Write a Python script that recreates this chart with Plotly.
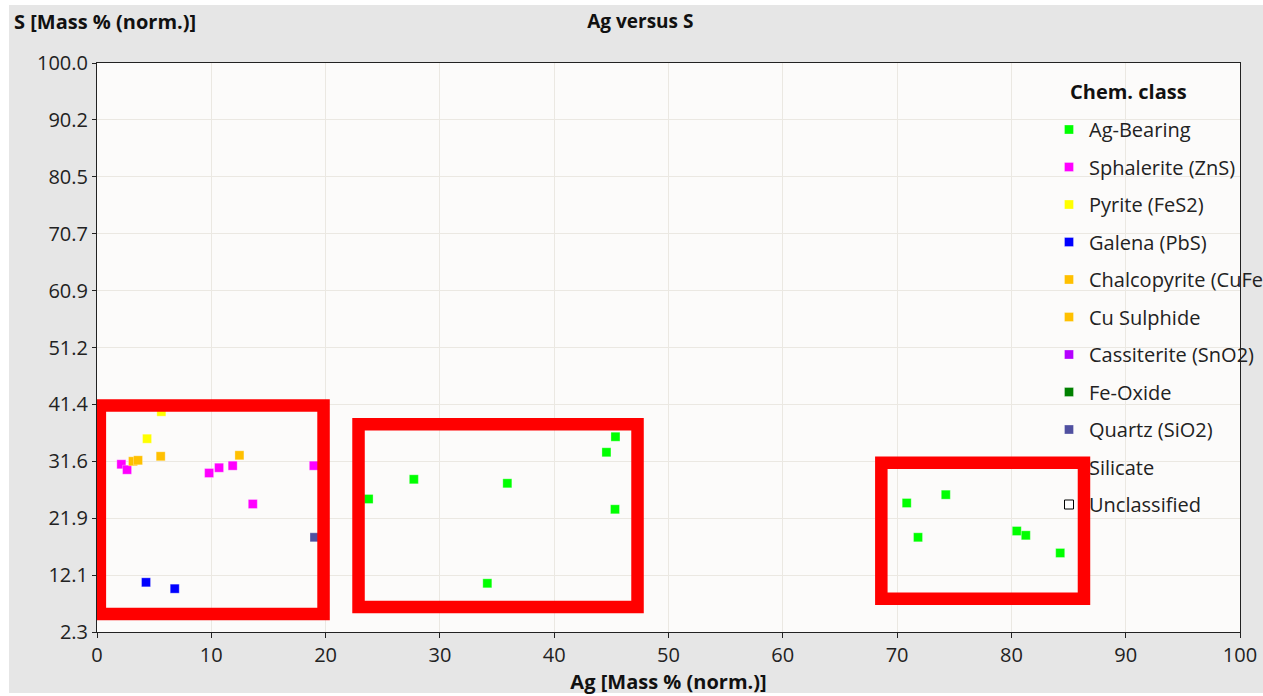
import numpy as np
import plotly.graph_objects as go

# Ag vs S measurements (mass %, normalised), grouped by chemical class
CLASSES = [
    "Ag-Bearing", "Sphalerite (ZnS)", "Pyrite (FeS2)", "Galena (PbS)",
    "Chalcopyrite (CuFeS2)", "Cu Sulphide", "Cassiterite (SnO2)",
    "Fe-Oxide", "Quartz (SiO2)", "Silicate", "Unclassified",
]
COLORS = [
    "#00ff00", "#ff00ff", "#ffff00", "#0000ff", "#ffc000", "#ffc000",
    "#b400ff", "#008000", "#5050a0", "rgba(0,0,0,0)", "#ffffff",
]

ag_bearing_ag = [45.36, 44.57, 27.72, 35.90, 23.76, 45.32, 34.15,
                 70.84, 74.26, 71.83, 80.47, 81.26, 84.27]
ag_bearing_s = [35.83, 33.16, 28.52, 27.83, 25.14, 23.37, 10.66,
                24.45, 25.88, 18.56, 19.64, 18.90, 15.87]

sphalerite_ag = [2.13, 2.63, 9.81, 10.68, 11.87, 13.63, 18.97]
sphalerite_s = [31.10, 30.17, 29.60, 30.51, 30.86, 24.28, 30.86]

pyrite_ag = [4.38, 5.63]
pyrite_s = [35.49, 40.13]

galena_ag = [4.29, 6.80]
galena_s = [10.83, 9.74]

chalcopyrite_ag = [3.15, 3.59, 12.46]
chalcopyrite_s = [31.61, 31.78, 32.64]

cu_sulphide_ag = [5.57]
cu_sulphide_s = [32.47]

quartz_ag = [19.03]
quartz_s = [18.56]

# classes without any particle in this selection
NO_DATA = ([None], [None])

SERIES = {
    "Ag-Bearing": (ag_bearing_ag, ag_bearing_s),
    "Sphalerite (ZnS)": (sphalerite_ag, sphalerite_s),
    "Pyrite (FeS2)": (pyrite_ag, pyrite_s),
    "Galena (PbS)": (galena_ag, galena_s),
    "Chalcopyrite (CuFeS2)": (chalcopyrite_ag, chalcopyrite_s),
    "Cu Sulphide": (cu_sulphide_ag, cu_sulphide_s),
    "Cassiterite (SnO2)": NO_DATA,
    "Fe-Oxide": NO_DATA,
    "Quartz (SiO2)": (quartz_ag, quartz_s),
    "Silicate": NO_DATA,
    "Unclassified": NO_DATA,
}

# Axis setup
X_TICKS = [0, 10, 20, 30, 40, 50, 60, 70, 80, 90, 100]
Y_MIN, Y_MAX = 2.3, 100.0
Y_TICK_LABELS = ["2.3", "12.1", "21.9", "31.6", "41.4", "51.2",
                 "60.9", "70.7", "80.5", "90.2", "100.0"]
y_tickvals = np.linspace(Y_MIN, Y_MAX, len(Y_TICK_LABELS))

# Highlighted regions (Ag range, S range)
REGIONS = [
    ((0.25, 19.82), (5.39, 41.19)),
    ((22.88, 47.29), (6.59, 37.96)),
    ((68.62, 86.35), (8.00, 31.37)),
]

FONT = "Open Sans"
ML, MR, MT, MB = 97, 23, 63, 64
PW, PH = 1263 - ML - MR, 696 - MT - MB


def px_to_paper(px, py):
    return (px - ML) / PW, (696 - MB - py) / PH


fig = go.Figure()
for i, (name, color) in enumerate(zip(CLASSES, COLORS)):
    xs, ys = SERIES[name]
    if name == "Unclassified":
        line = dict(width=1, color="black")
    elif name == "Silicate":
        line = dict(width=0)
    else:
        line = dict(width=0.6, color="rgba(255,255,255,0.5)")
    fig.add_trace(go.Scatter(
        x=xs, y=ys, mode="markers", name=name, legendgroup=f"g{i}",
        marker=dict(symbol="square", size=9, color=color, line=line),
    ))

for (x0, x1), (y0, y1) in REGIONS:
    fig.add_shape(type="rect", xref="x", yref="y", x0=x0, x1=x1, y0=y0, y1=y1,
                  line=dict(color="#ff0000", width=12.5), layer="above")

# thin white edge around the figure
for sx0, sx1, sy0, sy1 in [(0, 9, 0, 696), (0, 1263, 0, 5), (0, 1263, 693, 696)]:
    ax0, ay1 = px_to_paper(sx0, sy0)
    ax1, ay0 = px_to_paper(sx1, sy1)
    fig.add_shape(type="rect", xref="paper", yref="paper",
                  x0=ax0, x1=ax1, y0=ay0, y1=ay1,
                  fillcolor="white", line=dict(width=0), layer="above")

leg_x, leg_y = px_to_paper(1049, 110)
ytitle_x, ytitle_y = px_to_paper(12, 22)
ltitle_x, ltitle_y = px_to_paper(1068, 92)

fig.update_layout(
    width=1263, height=696,
    margin=dict(l=ML, r=MR, t=MT, b=MB, autoexpand=False),
    paper_bgcolor="#e6e6e6",
    plot_bgcolor="#fcfbfa",
    font=dict(family=FONT, size=20, color="#222222"),
    title=dict(text="<b>Ag versus S</b>", x=0.507, xanchor="center",
               y=0.97, yanchor="middle", font=dict(size=19, color="#111111")),
    showlegend=True,
    legend=dict(
        x=leg_x, y=leg_y, xanchor="left", yanchor="top",
        bgcolor="rgba(0,0,0,0)", tracegroupgap=8.5, traceorder="grouped",
        font=dict(size=20, color="#222222"),
    ),
    xaxis=dict(
        range=[0, 100], tickvals=X_TICKS, showgrid=True, gridcolor="#ebe8e2",
        showline=True, linecolor="#222222", linewidth=1, mirror=True,
        ticks="outside", ticklen=5, tickcolor="#222222", zeroline=False,
        title=dict(text="<b>Ag [Mass % (norm.)]</b>",
                   font=dict(size=20, color="#111111"), standoff=4),
    ),
    yaxis=dict(
        range=[Y_MIN, Y_MAX], tickvals=y_tickvals, ticktext=Y_TICK_LABELS,
        showgrid=True, gridcolor="#ebe8e2",
        showline=True, linecolor="#222222", linewidth=1, mirror=True,
        ticks="outside", ticklen=4, tickcolor="#222222", zeroline=False,
    ),
    annotations=[
        dict(text="<b>S [Mass % (norm.)]</b>", xref="paper", yref="paper",
             x=ytitle_x, y=ytitle_y, xanchor="left", yanchor="middle",
             showarrow=False, font=dict(size=20, color="#111111")),
        dict(text="<b>Chem. class</b>", xref="paper", yref="paper",
             x=ltitle_x, y=ltitle_y, xanchor="left", yanchor="middle",
             showarrow=False, font=dict(size=20, color="#111111")),
    ],
)

fig.write_html("out.html")
